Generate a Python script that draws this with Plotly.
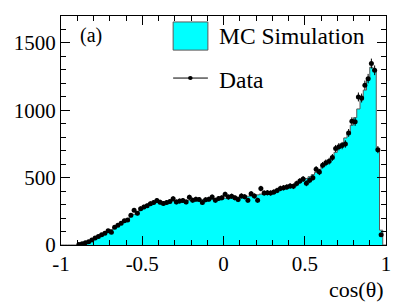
import numpy as np
import plotly.graph_objects as go

# 100 bins of width 0.02 on cos(theta) in [-1, 1]
n_bins = 100
bin_edges = np.round(np.linspace(-1, 1, n_bins + 1), 3)
bin_centers = np.round((bin_edges[:-1] + bin_edges[1:]) / 2, 3)

data_counts = [
    0, 0, 0, 0, 0, 4, 10, 17, 24, 38,
    52, 63, 76, 88, 105, 94, 132, 146, 162, 180,
    186, 220, 258, 236, 270, 282, 292, 307, 315, 330,
    318, 308, 316, 322, 344, 320, 326, 330, 320, 354,
    333, 340, 338, 316, 336, 340, 356, 332, 345, 350,
    376, 356, 362, 350, 337, 364, 358, 332, 381, 364,
    332, 419, 386, 388, 386, 393, 405, 420, 425, 430,
    438, 436, 456, 475, 490, 458, 480, 500, 562, 542,
    592, 610, 622, 650, 716, 730, 738, 750, 832, 918,
    915, 1099, 1091, 1186, 1235, 1347, 1297, 708, 76, 0,
]

mc_counts = [
    0, 0, 0, 0, 0, 5, 10, 18, 28, 38,
    50, 62, 76, 90, 102, 115, 130, 145, 160, 175,
    192, 210, 228, 245, 262, 278, 290, 300, 308, 314,
    318, 320, 322, 324, 326, 327, 328, 330, 331, 332,
    334, 335, 336, 337, 338, 340, 341, 343, 344, 346,
    348, 350, 352, 354, 356, 358, 360, 362, 365, 368,
    372, 378, 384, 390, 396, 402, 408, 415, 422, 430,
    438, 447, 457, 468, 480, 493, 507, 522, 540, 560,
    582, 605, 630, 658, 688, 720, 755, 795, 840, 890,
    945, 1010, 1075, 1150, 1230, 1320, 1290, 700, 110, 0,
]

x_ticks = [-1, -0.5, 0, 0.5, 1]
x_tick_labels = ["-1", "-0.5", "0", "0.5", "1"]
y_ticks = [0, 500, 1000, 1500]
y_tick_labels = ["0", "500", "1000", "1500"]

FONT = "Liberation Serif, Times New Roman, serif"

fig = go.Figure()

# MC histogram (step outline, filled)
mc_x = list(bin_edges)
mc_y = list(mc_counts) + [mc_counts[-1]]
fig.add_trace(go.Scatter(
    x=mc_x, y=mc_y, mode="lines", line_shape="hv",
    line=dict(color="#5a5a5a", width=1),
    fill="tozeroy", fillcolor="#00FFFF",
    showlegend=False, hoverinfo="skip",
))

# Data points with statistical errors
dx = [c for c, v in zip(bin_centers, data_counts) if v > 0]
dy = [v for v in data_counts if v > 0]
derr = [float(np.sqrt(v)) for v in dy]
fig.add_trace(go.Scatter(
    x=dx, y=dy, mode="markers",
    marker=dict(color="black", size=5),
    error_y=dict(type="data", array=derr, visible=True, color="black",
                 thickness=1, width=0),
    showlegend=False,
))

# Manual legend
fig.add_shape(type="rect", xref="paper", yref="paper",
              x0=0.345, x1=0.452, y0=0.851, y1=0.974,
              fillcolor="#00FFFF", line=dict(color="#5a5a5a", width=1))
fig.add_shape(type="line", xref="paper", yref="paper",
              x0=0.345, x1=0.452, y0=0.729, y1=0.729,
              line=dict(color="black", width=1))
fig.add_shape(type="circle", xref="paper", yref="paper",
              x0=0.391, x1=0.405, y0=0.720, y1=0.738,
              fillcolor="black", line=dict(color="black", width=0))
fig.add_annotation(xref="paper", yref="paper", x=0.48, y=0.913,
                   text="MC Simulation", showarrow=False, xanchor="left",
                   yanchor="middle", font=dict(family=FONT, size=23.5, color="black"))
fig.add_annotation(xref="paper", yref="paper", x=0.48, y=0.72,
                   text="Data", showarrow=False, xanchor="left",
                   yanchor="middle", font=dict(family=FONT, size=23.5, color="black"))
fig.add_annotation(xref="paper", yref="paper", x=0.052, y=0.913,
                   text="(a)", showarrow=False, xanchor="left",
                   yanchor="middle", font=dict(family=FONT, size=20, color="black"))
fig.add_annotation(xref="paper", yref="paper", x=1.0, y=-0.194,
                   text="cos(θ)", showarrow=False, xanchor="right",
                   yanchor="middle", font=dict(family=FONT, size=22, color="black"))

axis_common = dict(
    showline=True, linecolor="black", linewidth=1, mirror="allticks",
    ticks="inside", ticklen=9, tickwidth=1, tickcolor="black",
    showgrid=False, zeroline=False, automargin=False,
    tickfont=dict(family=FONT, size=21, color="black"),
)

fig.update_xaxes(range=[-1, 1], tickvals=x_ticks, ticktext=x_tick_labels,
                 minor=dict(dtick=0.1, ticks="inside", ticklen=5,
                            tickcolor="black", tickwidth=1, showgrid=False),
                 **axis_common)
fig.update_yaxes(range=[0, 1700], tickvals=y_ticks, ticktext=y_tick_labels,
                 minor=dict(dtick=100, ticks="inside", ticklen=5,
                            tickcolor="black", tickwidth=1, showgrid=False),
                 **axis_common)

# the page body adds an 8px offset, so the figure is shifted back by it
fig.update_layout(
    template="none",
    width=399, height=298,
    margin=dict(l=53, r=21, t=8, b=61, autoexpand=False),
    paper_bgcolor="white", plot_bgcolor="white",
    font=dict(family=FONT, color="black"),
    showlegend=False,
)

fig.write_html("out.html")
